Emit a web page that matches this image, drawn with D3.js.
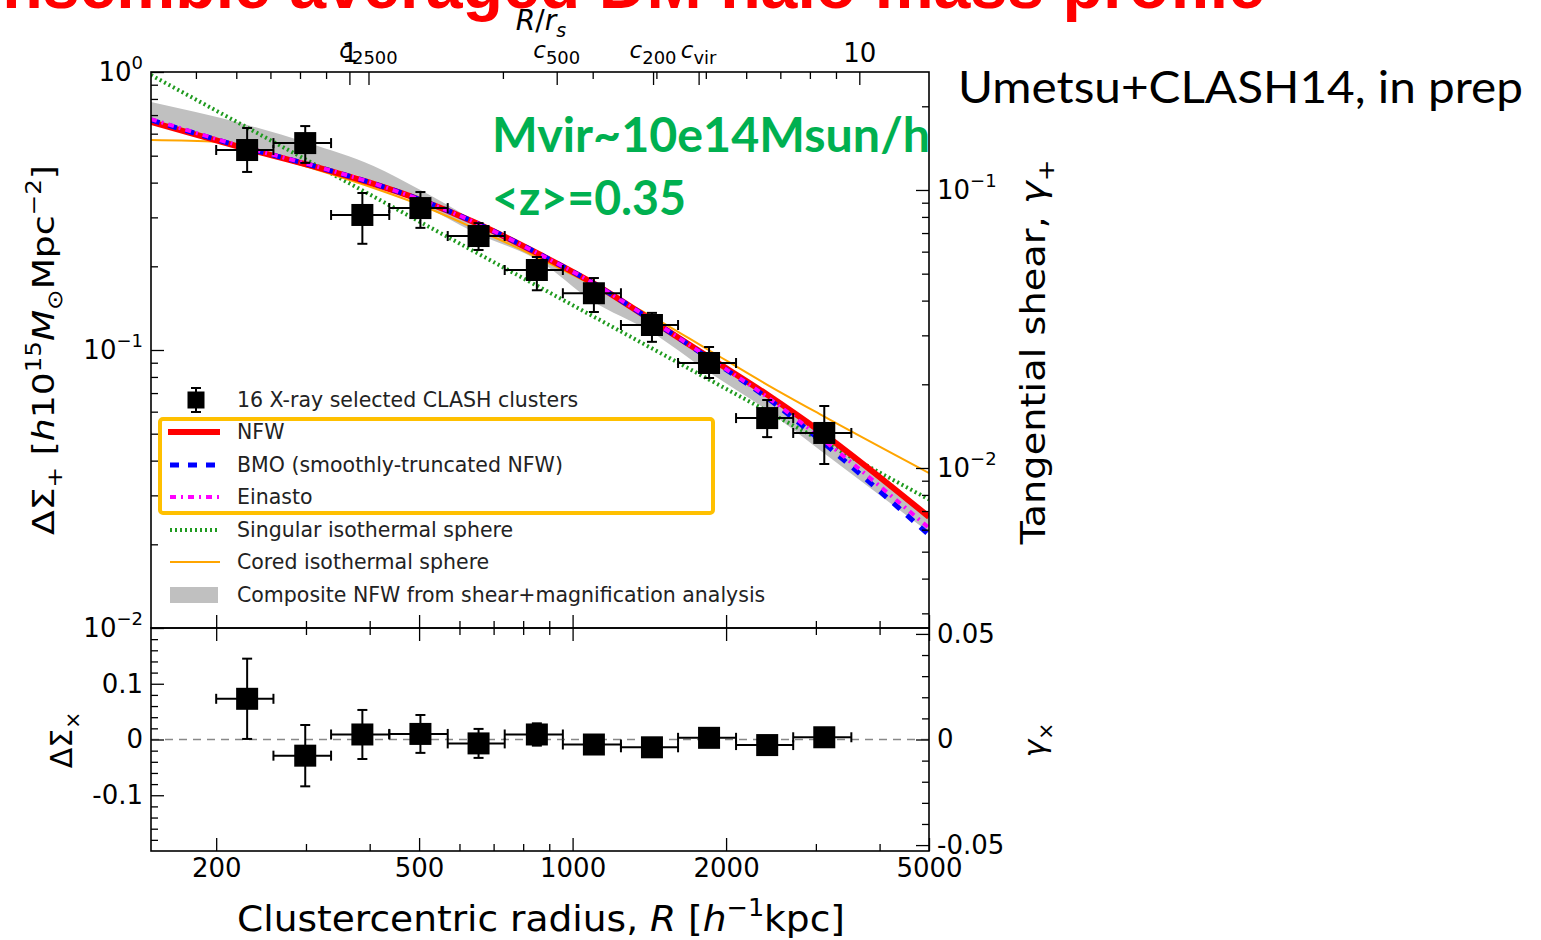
<!DOCTYPE html>
<html>
<head>
<meta charset="utf-8">
<script src="https://cdn.jsdelivr.net/npm/d3@7"></script>
<style>
  body { margin: 0; background: #fff; }
  text { font-family: "DejaVu Sans", sans-serif; }
</style>
</head>
<body>
<svg id="chart" width="1541" height="940"></svg>
<script>
// ---- data ----
const rScale = 365; // r_s in h^-1 kpc, used for the R/r_s axis

// radial bins (h^-1 kpc)
const binR  = [230, 299, 387, 503, 654, 851, 1101, 1431, 1852, 2408, 3116];
const binLo = [200, 259, 336, 437, 569, 736, 957, 1244, 1610, 2092, 2708];
const binHi = [259, 336, 437, 569, 736, 957, 1244, 1610, 2092, 2708, 3521];

// tangential profile Delta Sigma_+
const dSigPlus   = [0.524, 0.555, 0.306, 0.324, 0.257, 0.194, 0.160, 0.123, 0.0898, 0.0569, 0.0503];
const dSigPlusHi = [0.629, 0.639, 0.367, 0.370, 0.286, 0.216, 0.1815, 0.136, 0.1025, 0.0661, 0.0629];
const dSigPlusLo = [0.437, 0.471, 0.241, 0.275, 0.229, 0.164, 0.137, 0.107, 0.0793, 0.0486, 0.0389];

// cross profile Delta Sigma_x
const dSigCross    = [0.073, -0.029, 0.009, 0.010, -0.007, 0.009, -0.009, -0.014, 0.003, -0.010, 0.004];
const dSigCrossErr = [0.072, 0.055, 0.044, 0.034, 0.026, 0.020, 0.008, 0.006, 0.006, 0.006, 0.005];

// model curves
const modelR   = [149, 223, 303, 407, 503, 640, 866, 1086, 1426, 1848, 2414, 3053, 5000];
const nfw      = [0.661, 0.537, 0.463, 0.3956, 0.3464, 0.2887, 0.2196, 0.1757, 0.1282, 0.0943, 0.0689, 0.0511, 0.0251];
const bmo      = [0.672, 0.540, 0.465, 0.3970, 0.3470, 0.2890, 0.2200, 0.1757, 0.1282, 0.0935, 0.0670, 0.0475, 0.0216];
const einasto  = [0.677, 0.542, 0.466, 0.3975, 0.3470, 0.2890, 0.2200, 0.1760, 0.1285, 0.0938, 0.0675, 0.0486, 0.0229];
const bandHi   = [0.780, 0.655, 0.555, 0.459, 0.376, 0.2936, 0.2179, 0.1786, 0.1303, 0.0951, 0.0690, 0.0507, 0.0251];
const bandLo   = [0.661, 0.542, 0.471, 0.405, 0.335, 0.2657, 0.2073, 0.1513, 0.1160, 0.0833, 0.0605, 0.0437, 0.0221];

const coredR   = [149, 201, 223, 303, 407, 503, 640, 866, 1086, 1426, 1848, 2414, 3053, 5000];
const cored    = [0.569, 0.560, 0.537, 0.455, 0.3825, 0.3323, 0.2747, 0.2125, 0.1727, 0.1325, 0.1000, 0.0748, 0.0588, 0.0361];

const sisR     = [149, 1000, 5000];
const sis      = [0.975, 0.145, 0.029];

// concentration markers on the R/r_s axis
const cNames  = ["2500", "500", "200", "vir"];
const cValues = [1.09, 2.55, 3.94, 4.84];

const legendLabels = ["16 X-ray selected CLASH clusters", "NFW", "BMO (smoothly-truncated NFW)", "Einasto",
                      "Singular isothermal sphere", "Cored isothermal sphere",
                      "Composite NFW from shear+magnification analysis"];

// ---- layout ----
const L = 151, Rt = 929, T = 72, M = 628, B = 851;
const svg = d3.select("#chart");

const x    = d3.scaleLog().domain([149, 5000]).range([L, Rt]);
const xTop = d3.scaleLog().domain([149 / rScale, 5000 / rScale]).range([L, Rt]);
const y    = d3.scaleLog().domain([0.01, 1]).range([M, T]);
const yR   = d3.scaleLog().domain([0.002657, 0.2657]).range([M, T]);
const yB   = d3.scaleLinear().domain([-0.2, 0.2]).range([B, M]);
const yBR  = d3.scaleLinear().domain([-0.0528, 0.0528]).range([B, M]);

// helper for text with sub/superscripts
function rich(sel, parts, base) {
    let cur = 0;
    parts.forEach(p => {
        const off = p.sup ? -base * 0.42 : p.sub ? base * 0.25 : 0;
        const ts = sel.append("tspan").attr("dy", off - cur).text(p.t);
        if (p.sup || p.sub) ts.attr("font-size", base * (p.sz || 0.68));
        if (p.i) ts.attr("font-style", "italic");
        cur = off;
    });
    return sel;
}

// ---- title & annotations ----
svg.append("text")
    .attr("x", -42).attr("y", 8)
    .attr("textLength", 1307).attr("lengthAdjust", "spacingAndGlyphs")
    .style("font-family", "'Liberation Sans', sans-serif")
    .style("font-weight", "bold").style("font-size", "66px")
    .attr("fill", "#ff0000")
    .text("Ensemble averaged DM halo mass profile");

svg.append("text")
    .attr("x", 958).attr("y", 103)
    .attr("textLength", 565).attr("lengthAdjust", "spacingAndGlyphs")
    .style("font-family", "Lato, sans-serif").style("font-size", "45px")
    .attr("fill", "#000")
    .text("Umetsu+CLASH14, in prep");

// ---- clip for top panel ----
svg.append("defs").append("clipPath").attr("id", "clipTop")
    .append("rect").attr("x", L).attr("y", T).attr("width", Rt - L).attr("height", M - T);

const topG = svg.append("g").attr("clip-path", "url(#clipTop)");

// composite NFW band
const band = modelR.map((r, i) => ({ r: r, lo: bandLo[i], hi: bandHi[i] }));
topG.append("path")
    .datum(band)
    .attr("fill", "#c0c0c0")
    .attr("d", d3.area().x(d => x(d.r)).y0(d => y(d.lo)).y1(d => y(d.hi)).curve(d3.curveMonotoneX));

const line = d3.line().x(d => x(d[0])).y(d => y(d[1])).curve(d3.curveMonotoneX);
const pairs = (rs, vs) => rs.map((r, i) => [r, vs[i]]);

topG.append("path").datum(pairs(sisR, sis)).attr("d", line)
    .attr("fill", "none").attr("stroke", "#1f9a1f").attr("stroke-width", 4).attr("stroke-dasharray", "2,3");
topG.append("path").datum(pairs(coredR, cored)).attr("d", line)
    .attr("fill", "none").attr("stroke", "#ffa500").attr("stroke-width", 2);
topG.append("path").datum(pairs(modelR, nfw)).attr("d", line)
    .attr("fill", "none").attr("stroke", "#ff0000").attr("stroke-width", 6);
topG.append("path").datum(pairs(modelR, bmo)).attr("d", line)
    .attr("fill", "none").attr("stroke", "#0000ff").attr("stroke-width", 5).attr("stroke-dasharray", "9,9");
topG.append("path").datum(pairs(modelR, einasto)).attr("d", line)
    .attr("fill", "none").attr("stroke", "#ff00ff").attr("stroke-width", 4).attr("stroke-dasharray", "6,5,2,5");

// zero line in lower panel
svg.append("line")
    .attr("x1", L).attr("x2", Rt).attr("y1", yB(0)).attr("y2", yB(0))
    .attr("stroke", "#888").attr("stroke-width", 1.3).attr("stroke-dasharray", "8,6");

// ---- data points with error bars ----
function errPoint(g, cx, cy, x0, x1, y0, y1, size) {
    g.append("line").attr("x1", cx).attr("x2", cx).attr("y1", y0).attr("y2", y1);
    g.append("line").attr("x1", cx - 5).attr("x2", cx + 5).attr("y1", y0).attr("y2", y0);
    g.append("line").attr("x1", cx - 5).attr("x2", cx + 5).attr("y1", y1).attr("y2", y1);
    g.append("line").attr("x1", x0).attr("x2", x1).attr("y1", cy).attr("y2", cy);
    g.append("line").attr("x1", x0).attr("x2", x0).attr("y1", cy - 5).attr("y2", cy + 5);
    g.append("line").attr("x1", x1).attr("x2", x1).attr("y1", cy - 5).attr("y2", cy + 5);
    g.append("rect").attr("x", cx - size / 2).attr("y", cy - size / 2)
        .attr("width", size).attr("height", size).attr("fill", "#000");
}

const pts = svg.append("g").attr("stroke", "#000").attr("stroke-width", 2);
binR.forEach((r, i) => {
    errPoint(pts, x(r), y(dSigPlus[i]), x(binLo[i]), x(binHi[i]), y(dSigPlusHi[i]), y(dSigPlusLo[i]), 20);
    errPoint(pts, x(r), yB(dSigCross[i]), x(binLo[i]), x(binHi[i]),
        yB(dSigCross[i] + dSigCrossErr[i]), yB(dSigCross[i] - dSigCrossErr[i]), 20);
});

// ---- legend ----
const legY = [400, 432, 465, 497, 530, 562, 595];
const leg = svg.append("g");
// marker entry
errPoint(leg.append("g").attr("stroke", "#000").attr("stroke-width", 2), 196, legY[0], 190, 202, legY[0] - 12, legY[0] + 12, 15);
leg.append("line").attr("x1", 168).attr("x2", 220).attr("y1", legY[1]).attr("y2", legY[1])
    .attr("stroke", "#ff0000").attr("stroke-width", 6);
leg.append("line").attr("x1", 170).attr("x2", 220).attr("y1", legY[2]).attr("y2", legY[2])
    .attr("stroke", "#0000ff").attr("stroke-width", 5).attr("stroke-dasharray", "9,9");
leg.append("line").attr("x1", 170).attr("x2", 220).attr("y1", legY[3]).attr("y2", legY[3])
    .attr("stroke", "#ff00ff").attr("stroke-width", 4).attr("stroke-dasharray", "6,5,2,5");
leg.append("line").attr("x1", 170).attr("x2", 220).attr("y1", legY[4]).attr("y2", legY[4])
    .attr("stroke", "#1f9a1f").attr("stroke-width", 4).attr("stroke-dasharray", "2,3");
leg.append("line").attr("x1", 170).attr("x2", 220).attr("y1", legY[5]).attr("y2", legY[5])
    .attr("stroke", "#ffa500").attr("stroke-width", 2);
leg.append("rect").attr("x", 170).attr("y", legY[6] - 8).attr("width", 48).attr("height", 16)
    .attr("fill", "#c0c0c0");
leg.selectAll("text.lab").data(legendLabels).join("text")
    .attr("class", "lab")
    .attr("x", 237).attr("y", (d, i) => legY[i]).attr("dy", "0.36em")
    .style("font-size", "20.5px").attr("fill", "#222")
    .text(d => d);
leg.append("rect").attr("x", 160).attr("y", 419).attr("width", 553).attr("height", 94)
    .attr("rx", 3).attr("fill", "none").attr("stroke", "#ffc000").attr("stroke-width", 4);

// ---- green annotations ----
svg.append("text").attr("x", 492).attr("y", 152)
    .attr("textLength", 438).attr("lengthAdjust", "spacingAndGlyphs")
    .style("font-family", "Lato, sans-serif").style("font-weight", "bold").style("font-size", "47px")
    .attr("fill", "#00b050").text("Mvir~10e14Msun/h");
svg.append("text").attr("x", 492).attr("y", 215)
    .attr("textLength", 194).attr("lengthAdjust", "spacingAndGlyphs")
    .style("font-family", "Lato, sans-serif").style("font-weight", "bold").style("font-size", "47px")
    .attr("fill", "#00b050").text("<z>=0.35");

// ---- axes ----
const tickFont = "26px";
function styleAxis(g) {
    g.select(".domain").remove();
    g.selectAll(".tick line").attr("stroke", "#000").attr("stroke-width", 1.3);
    g.selectAll(".tick text").attr("fill", "#000").style("font-size", tickFont);
}
function powLabels(g) {
    g.selectAll(".tick text").each(function (d) {
        const t = d3.select(this).text(null);
        const e = Math.round(Math.log10(d));
        t.append("tspan").text("10");
        t.append("tspan").attr("dy", -12).style("font-size", "18px").text(e === 0 ? "0" : "\u2212" + (-e));
    });
}

const xMajor = [200, 500, 1000, 2000, 5000];
const xMinor = [300, 400, 600, 700, 800, 900, 3000, 4000];

// bottom of lower panel, with labels
svg.append("g").attr("transform", `translate(0,${B})`)
    .call(d3.axisBottom(x).tickValues(xMajor).tickFormat(d3.format("d")).tickSize(-13).tickPadding(8))
    .call(styleAxis);
svg.append("g").attr("transform", `translate(0,${B})`)
    .call(d3.axisBottom(x).tickValues(xMinor).tickFormat("").tickSize(-7))
    .call(styleAxis);
// shared edge between panels: ticks into both panels
[-1, 1].forEach(s => {
    svg.append("g").attr("transform", `translate(0,${M})`)
        .call(d3.axisBottom(x).tickValues(xMajor).tickFormat("").tickSize(13 * s))
        .call(styleAxis);
    svg.append("g").attr("transform", `translate(0,${M})`)
        .call(d3.axisBottom(x).tickValues(xMinor).tickFormat("").tickSize(7 * s))
        .call(styleAxis);
});

// top R/r_s axis
svg.append("g").attr("transform", `translate(0,${T})`)
    .call(d3.axisTop(xTop).tickValues([1, 10]).tickFormat(d3.format("d")).tickSize(-13).tickPadding(10))
    .call(styleAxis);
svg.append("g").attr("transform", `translate(0,${T})`)
    .call(d3.axisTop(xTop).tickValues([0.5, 0.6, 0.7, 0.8, 0.9, 2, 3, 4, 5, 6, 7, 8, 9]).tickFormat("").tickSize(-7))
    .call(styleAxis);
svg.append("g").attr("transform", `translate(0,${T})`)
    .call(d3.axisTop(xTop).tickValues(cValues).tickFormat("").tickSize(-13))
    .call(styleAxis);
cNames.forEach((n, i) => {
    rich(svg.append("text").attr("x", xTop(cValues[i])).attr("y", 58).attr("text-anchor", "middle")
        .style("font-size", "23px"), [{ t: "c", i: true }, { t: n, sub: true, sz: 0.78 }], 23);
});
rich(svg.append("text").attr("x", 541).attr("y", 30).attr("text-anchor", "middle").style("font-size", "28px"),
    [{ t: "R", i: true }, { t: "/" }, { t: "r", i: true }, { t: "s", sub: true, i: true }], 28);

// left axis, top panel
svg.append("g").attr("transform", `translate(${L},0)`)
    .call(d3.axisLeft(y).tickValues([0.01, 0.1, 1]).tickSize(-13).tickPadding(8))
    .call(styleAxis).call(powLabels);
svg.append("g").attr("transform", `translate(${L},0)`)
    .call(d3.axisLeft(y).tickValues([0.02, 0.03, 0.04, 0.05, 0.06, 0.07, 0.08, 0.09, 0.2, 0.3, 0.4, 0.5, 0.6, 0.7, 0.8, 0.9])
        .tickFormat("").tickSize(-7))
    .call(styleAxis);

// right axis, top panel (tangential shear)
svg.append("g").attr("transform", `translate(${Rt},0)`)
    .call(d3.axisRight(yR).tickValues([0.01, 0.1]).tickSize(-13).tickPadding(8))
    .call(styleAxis).call(powLabels);
svg.append("g").attr("transform", `translate(${Rt},0)`)
    .call(d3.axisRight(yR).tickValues([0.003, 0.004, 0.005, 0.006, 0.007, 0.008, 0.009,
        0.02, 0.03, 0.04, 0.05, 0.06, 0.07, 0.08, 0.09, 0.2]).tickFormat("").tickSize(-7))
    .call(styleAxis);

// left axis, lower panel
const fmtSigned = d => d === 0 ? "0" : (d < 0 ? "-" : "") + Math.abs(d);
svg.append("g").attr("transform", `translate(${L},0)`)
    .call(d3.axisLeft(yB).tickValues([-0.1, 0, 0.1]).tickFormat(fmtSigned).tickSize(-13).tickPadding(8))
    .call(styleAxis);
svg.append("g").attr("transform", `translate(${L},0)`)
    .call(d3.axisLeft(yB).tickValues(d3.range(-9, 10).filter(k => k % 5 !== 0).map(k => k * 0.02))
        .tickFormat("").tickSize(-7))
    .call(styleAxis);

// right axis, lower panel
svg.append("g").attr("transform", `translate(${Rt},0)`)
    .call(d3.axisRight(yBR).tickValues([-0.05, 0, 0.05]).tickFormat(fmtSigned).tickSize(-13).tickPadding(8))
    .call(styleAxis);
svg.append("g").attr("transform", `translate(${Rt},0)`)
    .call(d3.axisRight(yBR).tickValues([-4, -3, -2, -1, 1, 2, 3, 4].map(k => k * 0.01))
        .tickFormat("").tickSize(-7))
    .call(styleAxis);

// frames
svg.append("rect").attr("x", L).attr("y", T).attr("width", Rt - L).attr("height", M - T)
    .attr("fill", "none").attr("stroke", "#000").attr("stroke-width", 1.6);
svg.append("rect").attr("x", L).attr("y", M).attr("width", Rt - L).attr("height", B - M)
    .attr("fill", "none").attr("stroke", "#000").attr("stroke-width", 1.6);

// ---- axis titles ----
rich(svg.append("text").attr("x", 541).attr("y", 931).attr("text-anchor", "middle")
    .attr("textLength", 608).attr("lengthAdjust", "spacingAndGlyphs").style("font-size", "36px"),
    [{ t: "Clustercentric radius, " }, { t: "R", i: true }, { t: " [" }, { t: "h", i: true },
     { t: "\u22121", sup: true }, { t: "kpc]" }], 36);

rich(svg.append("text").attr("transform", "translate(54,350) rotate(-90)").attr("text-anchor", "middle")
    .attr("textLength", 370).attr("lengthAdjust", "spacingAndGlyphs").style("font-size", "31px"),
    [{ t: "\u0394\u03a3" }, { t: "+", sub: true }, { t: " [" }, { t: "h", i: true }, { t: "10" },
     { t: "15", sup: true }, { t: "M", i: true }, { t: "\u2299", sub: true }, { t: "Mpc" },
     { t: "\u22122", sup: true }, { t: "]" }], 31);

rich(svg.append("text").attr("transform", "translate(1045,352) rotate(-90)").attr("text-anchor", "middle")
    .attr("textLength", 385).attr("lengthAdjust", "spacingAndGlyphs").style("font-size", "34px"),
    [{ t: "Tangential shear, " }, { t: "\u03b3", i: true }, { t: "+", sub: true }], 34);

rich(svg.append("text").attr("transform", "translate(72,740) rotate(-90)").attr("text-anchor", "middle")
    .style("font-size", "30px"),
    [{ t: "\u0394\u03a3" }, { t: "\u00d7", sub: true }], 30);

rich(svg.append("text").attr("transform", "translate(1045,740) rotate(-90)").attr("text-anchor", "middle")
    .style("font-size", "30px"),
    [{ t: "\u03b3", i: true }, { t: "\u00d7", sub: true }], 30);
</script>
</body>
</html>
